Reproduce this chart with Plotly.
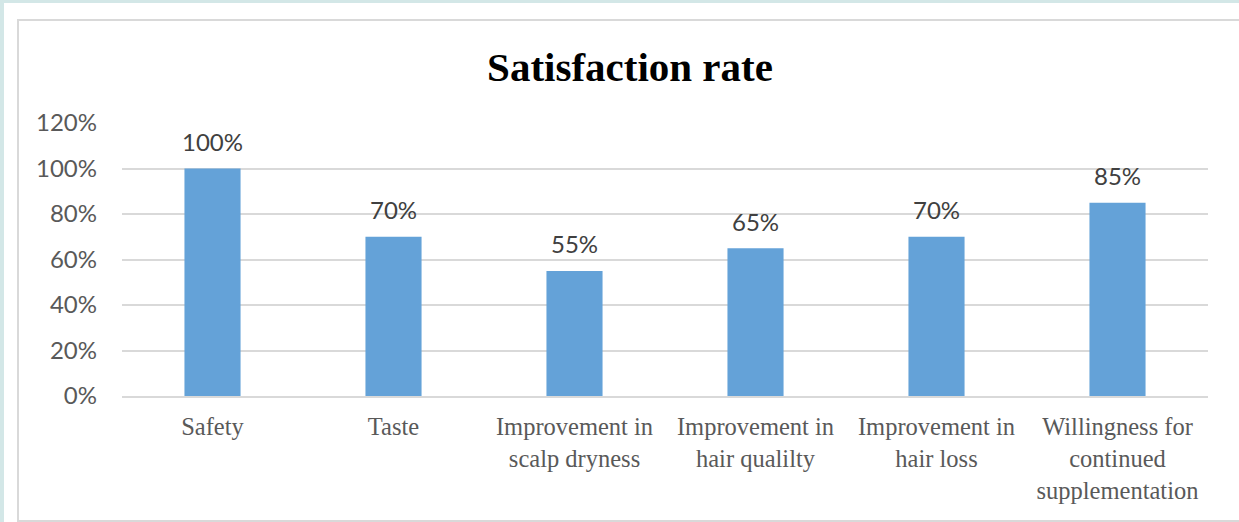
import plotly.graph_objects as go

# Survey results: share of participants satisfied with each aspect
categories = [
    "Safety",
    "Taste",
    "Improvement in<br>scalp dryness",
    "Improvement in<br>hair qualilty",
    "Improvement in<br>hair loss",
    "Willingness for<br>continued<br>supplementation",
]
satisfaction = [1.00, 0.70, 0.55, 0.65, 0.70, 0.85]
y_ticks = [0, 0.2, 0.4, 0.6, 0.8, 1.0, 1.2]
y_tick_labels = ["0%", "20%", "40%", "60%", "80%", "100%", "120%"]

W, H = 1239, 522
L, R, T, B = 122, 31, 123, 126
PW, PH = W - L - R, H - T - B


def px_x(p):
    return (p - L) / PW


def px_y(p):
    return (H - B - p) / PH


fig = go.Figure(
    go.Bar(
        x=categories,
        y=satisfaction,
        marker=dict(color="#64A2D8", line=dict(width=0)),
        width=0.31,
        hoverinfo="x+y",
    )
)

# value labels above each bar
for c, v in zip(categories, satisfaction):
    fig.add_annotation(
        x=c, y=v, text=f"{round(v * 100)}%", showarrow=False,
        yanchor="middle", yshift=27,
        font=dict(family="Lato", size=24, color="#404040"),
    )

# white card with a thin grey frame on the tinted page
fig.add_shape(type="rect", xref="paper", yref="paper",
              x0=px_x(4), x1=px_x(1260), y0=px_y(540), y1=px_y(3),
              fillcolor="white", line=dict(width=0), layer="below")
fig.add_shape(type="rect", xref="paper", yref="paper",
              x0=px_x(18), x1=px_x(1260), y0=px_y(521), y1=px_y(20),
              fillcolor="rgba(0,0,0,0)", line=dict(color="#D9D9D9", width=2),
              layer="below")

fig.update_layout(
    width=W, height=H,
    margin=dict(l=L, r=R, t=T, b=B, pad=0, autoexpand=False),
    paper_bgcolor="#D3E7E7",
    plot_bgcolor="white",
    showlegend=False,
    title=dict(
        text="<b>Satisfaction rate</b>",
        x=630 / W, y=1 - 67 / H, xref="container", yref="container",
        xanchor="center", yanchor="middle",
        font=dict(family="Liberation Serif", size=41, color="black"),
    ),
    bargap=0.69,
)

fig.update_xaxes(
    showgrid=False, showline=True, linecolor="#D9D9D9", linewidth=2,
    ticks="", tickangle=0, ticklabelstandoff=8, automargin=False,
    tickfont=dict(family="Liberation Serif", size=24.5, color="#595959"),
)
fig.update_yaxes(
    range=[0, 1.2], tickvals=y_ticks, ticktext=y_tick_labels,
    showgrid=True, gridcolor="#D9D9D9", gridwidth=1.5,
    zeroline=False, showline=False, ticks="", ticklabelstandoff=24,
    automargin=False,
    tickfont=dict(family="Lato", size=24, color="#595959"),
)

fig.write_html("out.html")
